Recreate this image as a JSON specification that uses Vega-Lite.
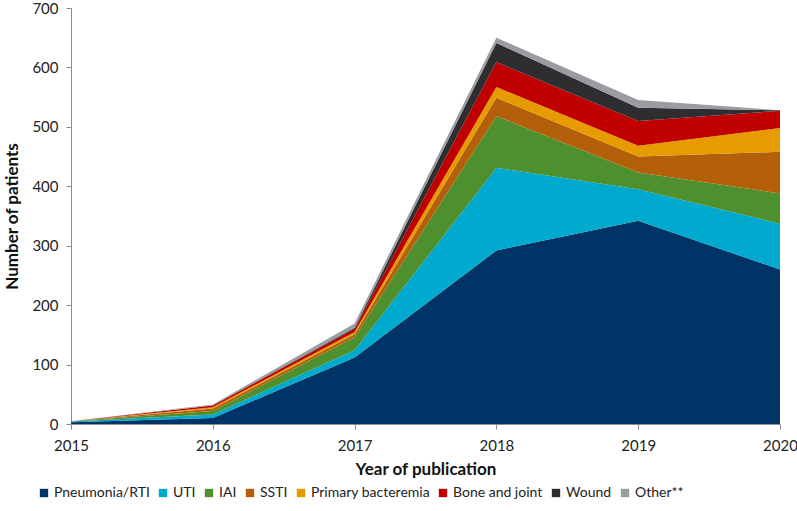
{
  "$schema": "https://vega.github.io/schema/vega-lite/v6.json",
  "width": 709,
  "height": 416,
  "autosize": {"type": "none"},
  "padding": {"left": 71, "top": 8, "right": 17, "bottom": 87},
  "background": "white",
  "config": {
    "font": "Lato",
    "view": {"stroke": null},
    "axis": {"labelFont": "Lato", "titleFont": "Lato", "labelColor": "#222", "titleColor": "#111", "domainColor": "#8c8c8c", "tickColor": "#8c8c8c", "grid": false}
  },
  "data": {
    "values": [
      {"year": 2015, "type": "Pneumonia/RTI", "k": 1, "n": 3},
      {"year": 2015, "type": "UTI", "k": 2, "n": 1},
      {"year": 2015, "type": "IAI", "k": 3, "n": 0.5},
      {"year": 2015, "type": "SSTI", "k": 4, "n": 0},
      {"year": 2015, "type": "Primary bacteremia", "k": 5, "n": 0},
      {"year": 2015, "type": "Bone and joint", "k": 6, "n": 0},
      {"year": 2015, "type": "Wound", "k": 7, "n": 0},
      {"year": 2015, "type": "Other**", "k": 8, "n": 0},
      {"year": 2016, "type": "Pneumonia/RTI", "k": 1, "n": 10},
      {"year": 2016, "type": "UTI", "k": 2, "n": 6},
      {"year": 2016, "type": "IAI", "k": 3, "n": 6},
      {"year": 2016, "type": "SSTI", "k": 4, "n": 4},
      {"year": 2016, "type": "Primary bacteremia", "k": 5, "n": 2},
      {"year": 2016, "type": "Bone and joint", "k": 6, "n": 3},
      {"year": 2016, "type": "Wound", "k": 7, "n": 0},
      {"year": 2016, "type": "Other**", "k": 8, "n": 2},
      {"year": 2017, "type": "Pneumonia/RTI", "k": 1, "n": 112},
      {"year": 2017, "type": "UTI", "k": 2, "n": 12},
      {"year": 2017, "type": "IAI", "k": 3, "n": 22},
      {"year": 2017, "type": "SSTI", "k": 4, "n": 5},
      {"year": 2017, "type": "Primary bacteremia", "k": 5, "n": 4},
      {"year": 2017, "type": "Bone and joint", "k": 6, "n": 5},
      {"year": 2017, "type": "Wound", "k": 7, "n": 2},
      {"year": 2017, "type": "Other**", "k": 8, "n": 7},
      {"year": 2018, "type": "Pneumonia/RTI", "k": 1, "n": 292},
      {"year": 2018, "type": "UTI", "k": 2, "n": 139},
      {"year": 2018, "type": "IAI", "k": 3, "n": 87},
      {"year": 2018, "type": "SSTI", "k": 4, "n": 31},
      {"year": 2018, "type": "Primary bacteremia", "k": 5, "n": 18},
      {"year": 2018, "type": "Bone and joint", "k": 6, "n": 42},
      {"year": 2018, "type": "Wound", "k": 7, "n": 32},
      {"year": 2018, "type": "Other**", "k": 8, "n": 9},
      {"year": 2019, "type": "Pneumonia/RTI", "k": 1, "n": 342},
      {"year": 2019, "type": "UTI", "k": 2, "n": 53},
      {"year": 2019, "type": "IAI", "k": 3, "n": 28},
      {"year": 2019, "type": "SSTI", "k": 4, "n": 27},
      {"year": 2019, "type": "Primary bacteremia", "k": 5, "n": 18},
      {"year": 2019, "type": "Bone and joint", "k": 6, "n": 42},
      {"year": 2019, "type": "Wound", "k": 7, "n": 22},
      {"year": 2019, "type": "Other**", "k": 8, "n": 13},
      {"year": 2020, "type": "Pneumonia/RTI", "k": 1, "n": 260},
      {"year": 2020, "type": "UTI", "k": 2, "n": 77},
      {"year": 2020, "type": "IAI", "k": 3, "n": 51},
      {"year": 2020, "type": "SSTI", "k": 4, "n": 70},
      {"year": 2020, "type": "Primary bacteremia", "k": 5, "n": 40},
      {"year": 2020, "type": "Bone and joint", "k": 6, "n": 29},
      {"year": 2020, "type": "Wound", "k": 7, "n": 1},
      {"year": 2020, "type": "Other**", "k": 8, "n": 0}
    ]
  },
  "mark": {"type": "area", "interpolate": "linear", "strokeWidth": 0},
  "encoding": {
    "x": {
      "field": "year", "type": "quantitative",
      "scale": {"domain": [2015, 2020], "nice": false, "zero": false},
      "axis": {"values": [2015, 2016, 2017, 2018, 2019, 2020], "format": "d", "labelFontSize": 15, "labelPadding": 9, "tickSize": 5, "title": "Year of publication", "titleFontSize": 17, "titleFontWeight": "bold", "titlePadding": 8, "labelFlush": false}
    },
    "y": {
      "field": "n", "type": "quantitative", "stack": "zero",
      "scale": {"domain": [0, 700], "nice": false},
      "axis": {"values": [0, 100, 200, 300, 400, 500, 600, 700], "labelFontSize": 15, "labelPadding": 8, "tickSize": 5, "title": "Number of patients", "titleFontSize": 17, "titleFontWeight": "bold", "titlePadding": 10}
    },
    "order": {"field": "k", "type": "quantitative", "sort": "ascending"},
    "color": {
      "field": "type", "type": "nominal",
      "sort": ["Pneumonia/RTI", "UTI", "IAI", "SSTI", "Primary bacteremia", "Bone and joint", "Wound", "Other**"],
      "scale": {
        "domain": ["Pneumonia/RTI", "UTI", "IAI", "SSTI", "Primary bacteremia", "Bone and joint", "Wound", "Other**"],
        "range": ["#003466", "#00A9CE", "#4E8F2E", "#B4600A", "#E69B00", "#C00000", "#2E2E30", "#9A9CA1"]
      },
      "legend": {
        "title": null, "orient": "none", "direction": "horizontal", "legendX": -34, "legendY": 478,
        "symbolType": "square", "symbolSize": 70, "symbolStrokeWidth": 0, "labelFontSize": 14, "labelColor": "#222", "columnPadding": 6, "symbolOffset": 0, "labelOffset": 3
      }
    }
  }
}
